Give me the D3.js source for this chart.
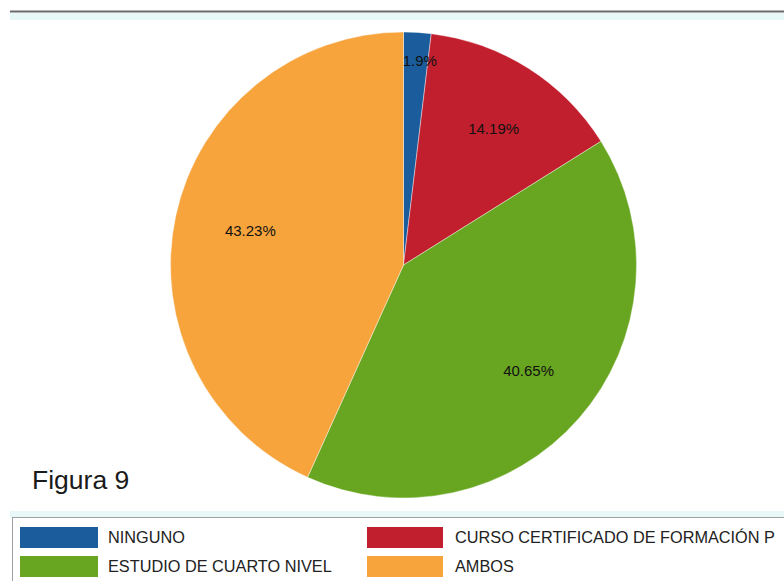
<!DOCTYPE html>
<html>
<head>
<meta charset="utf-8">
<script src="https://cdn.jsdelivr.net/npm/d3@7"></script>
<style>
  body { margin: 0; background: #fff; }
  svg { display: block; font-family: "Liberation Sans", Arial, sans-serif; }
</style>
</head>
<body>
<svg width="784" height="581"></svg>
<script>
// categories and their shares (%)
var categories = ["NINGUNO", "CURSO CERTIFICADO DE FORMACIÓN P", "ESTUDIO DE CUARTO NIVEL", "AMBOS"];
var values = [1.9, 14.19, 40.65, 43.23];
var labels = ["1.9%", "14.19%", "40.65%", "43.23%"];
var colors = ["#1a5c9c", "#c21f2e", "#68a621", "#f7a43d"];

var svg = d3.select("svg");

// top rule with light band under it
svg.append("rect").attr("x", 10).attr("y", 13).attr("width", 774).attr("height", 7).style("fill", "#e8f7f8");
svg.append("line")
  .attr("x1", 10).attr("x2", 784).attr("y1", 11.5).attr("y2", 11.5)
  .style("stroke", "#6a6a6a").style("stroke-width", 2);

var cx = 403.5, cy = 265, radius = 233;

var pie = d3.pie().sort(null).value(function(d) { return d; });
var arc = d3.arc().innerRadius(0).outerRadius(radius);
var arcs = pie(values);

var g = svg.append("g").attr("transform", "translate(" + cx + "," + cy + ")");

g.selectAll("path")
  .data(arcs)
  .enter().append("path")
  .attr("d", arc)
  .style("fill", function(d, i) { return colors[i]; })
  .style("stroke", "#fff")
  .style("stroke-width", 0.4);

// labels sit inside the slices, pushed out for the thin one
g.selectAll("text")
  .data(arcs)
  .enter().append("text")
  .attr("transform", function(d) {
    var r = d.data < 5 ? radius * 0.88 : radius * 0.69;
    var c = d3.arc().innerRadius(r).outerRadius(r).centroid(d);
    return "translate(" + (c[0] + 4) + "," + c[1] + ")";
  })
  .attr("text-anchor", "middle")
  .attr("dy", ".35em")
  .style("font-size", "15px")
  .style("fill", "#111")
  .text(function(d, i) { return labels[i]; });

svg.append("text")
  .attr("x", 32).attr("y", 489)
  .style("font-size", "26.5px")
  .style("fill", "#1a1a1a")
  .text("Figura 9");

// legend box
svg.append("rect").attr("x", 10).attr("y", 511).attr("width", 774).attr("height", 7).style("fill", "#e8f7f8");
svg.append("rect")
  .attr("x", 12.5).attr("y", 517.5).attr("width", 780).attr("height", 80)
  .style("fill", "#fff").style("stroke", "#a0a0a0");

var legend = svg.selectAll("g.legend")
  .data(categories)
  .enter().append("g")
  .attr("class", "legend")
  .attr("transform", function(d, i) {
    return "translate(" + (i % 2 ? 367 : 20) + "," + (i < 2 ? 527 : 556) + ")";
  });

legend.append("rect")
  .attr("width", function(d, i) { return i % 2 ? 76 : 78; })
  .attr("height", 21)
  .style("fill", function(d, i) { return colors[i]; });

legend.append("text")
  .attr("x", 88)
  .attr("y", 16)
  .style("font-size", "16.3px")
  .style("fill", "#222")
  .text(function(d) { return d; });
</script>
</body>
</html>
